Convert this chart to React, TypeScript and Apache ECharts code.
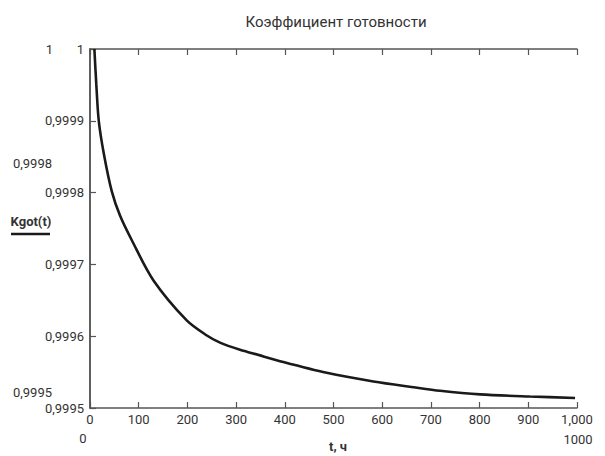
import React, { useEffect, useRef } from "react";
import * as echarts from "echarts";

const titleText = "Коэффициент готовности";
const xName = "t, ч";
const seriesName = "Kgot(t)";

const tValues = [9, 13, 18, 28.7, 44.6, 61.6, 85.6, 130, 198.6, 240, 267, 308, 335, 397, 486, 582, 664, 719, 801, 903, 996];
const kValues = [1.0, 0.99995, 0.9999, 0.999853, 0.999802, 0.999768, 0.999734, 0.999678, 0.999622, 0.999601, 0.999591, 0.999581, 0.999576, 0.999564, 0.999549, 0.999537, 0.999529, 0.999524, 0.999519, 0.999516, 0.999514];

const xMin = 0;
const xMax = 1000;
const xStep = 100;
const yMin = 0.9995;
const yMax = 1;
const yStep = 0.0001;

const limitLabels = { yTop: "1", yMark: "0,9998", yBottom: "0,9995", xLeft: "0", xRight: "1000" };

const FONT = "'Roboto', sans-serif";
const AXIS_COLOR = "#555";
const TEXT_COLOR = "#333";

function fmtY(v: number): string {
  if (Math.abs(v - 1) < 1e-9) return "1";
  return v.toFixed(4).replace(".", ",");
}

export default function App() {
  const ref = useRef<HTMLDivElement>(null);
  useEffect(() => {
    document.body.style.margin = "0";
    if (!ref.current) return;
    const chart = echarts.init(ref.current, undefined, { renderer: "svg" });
    const data = tValues.map((t, i) => [t, kValues[i]]);
    chart.setOption({
      animation: false,
      backgroundColor: "#fff",
      title: {
        text: titleText,
        left: 331,
        top: 9,
        textAlign: "center",
        textStyle: { fontFamily: FONT, fontSize: 15, fontWeight: "normal", color: TEXT_COLOR },
      },
      grid: { left: 90, right: 28, top: 49, bottom: 48 },
      xAxis: [
        {
          type: "value",
          min: xMin,
          max: xMax,
          interval: xStep,
          position: "bottom",
          axisLine: { show: true, lineStyle: { color: AXIS_COLOR, width: 1.5 } },
          axisTick: { show: true, inside: true, length: 6, lineStyle: { color: AXIS_COLOR, width: 1.2 } },
          axisLabel: { margin: 5, fontFamily: FONT, fontSize: 13, color: TEXT_COLOR },
          splitLine: { show: false },
        },
        {
          type: "value",
          min: xMin,
          max: xMax,
          interval: xStep,
          position: "top",
          axisLine: { show: true, lineStyle: { color: AXIS_COLOR, width: 1.5 } },
          axisTick: { show: true, inside: true, length: 6, lineStyle: { color: AXIS_COLOR, width: 1.2 } },
          axisLabel: { show: false },
          splitLine: { show: false },
        },
      ],
      yAxis: [
        {
          type: "value",
          min: yMin,
          max: yMax,
          interval: yStep,
          position: "left",
          axisLine: { show: true, lineStyle: { color: AXIS_COLOR, width: 1.5 } },
          axisTick: { show: true, inside: true, length: 6, lineStyle: { color: AXIS_COLOR, width: 1.2 } },
          axisLabel: { margin: 6, fontFamily: FONT, fontSize: 13, color: TEXT_COLOR, formatter: fmtY },
          splitLine: { show: false },
        },
        {
          type: "value",
          min: yMin,
          max: yMax,
          position: "right",
          axisLine: { show: true, lineStyle: { color: AXIS_COLOR, width: 1.5 } },
          axisTick: { show: false },
          axisLabel: { show: false },
          splitLine: { show: false },
        },
      ],
      series: [
        {
          name: seriesName,
          type: "line",
          data,
          smooth: 0.3,
          showSymbol: false,
          clip: true,
          lineStyle: { color: "#1a1a1a", width: 2.6 },
        },
      ],
      graphic: [
        { type: "text", x: 53, y: 49, style: { text: limitLabels.yTop, font: `13px ${FONT}`, fill: TEXT_COLOR, textAlign: "right", textVerticalAlign: "middle" } },
        { type: "text", x: 52, y: 163, style: { text: limitLabels.yMark, font: `13px ${FONT}`, fill: TEXT_COLOR, textAlign: "right", textVerticalAlign: "middle" } },
        { type: "text", x: 52, y: 392, style: { text: limitLabels.yBottom, font: `13px ${FONT}`, fill: TEXT_COLOR, textAlign: "right", textVerticalAlign: "middle" } },
        { type: "text", x: 31, y: 221, style: { text: seriesName, font: `bold 13px ${FONT}`, fill: TEXT_COLOR, textAlign: "center", textVerticalAlign: "middle" } },
        { type: "line", shape: { x1: 11, y1: 234, x2: 50, y2: 234 }, style: { stroke: "#1a1a1a", lineWidth: 2.5 } },
        { type: "text", x: 83, y: 438, style: { text: limitLabels.xLeft, font: `13px ${FONT}`, fill: TEXT_COLOR, textAlign: "center", textVerticalAlign: "middle" } },
        { type: "text", x: 578, y: 439, style: { text: limitLabels.xRight, font: `13px ${FONT}`, fill: TEXT_COLOR, textAlign: "center", textVerticalAlign: "middle" } },
        { type: "text", x: 338, y: 446, style: { text: xName, font: `bold 13px ${FONT}`, fill: TEXT_COLOR, textAlign: "center", textVerticalAlign: "middle" } },
      ],
    });
    return () => chart.dispose();
  }, []);
  return <div ref={ref} style={{ width: 605, height: 456 }} />;
}
